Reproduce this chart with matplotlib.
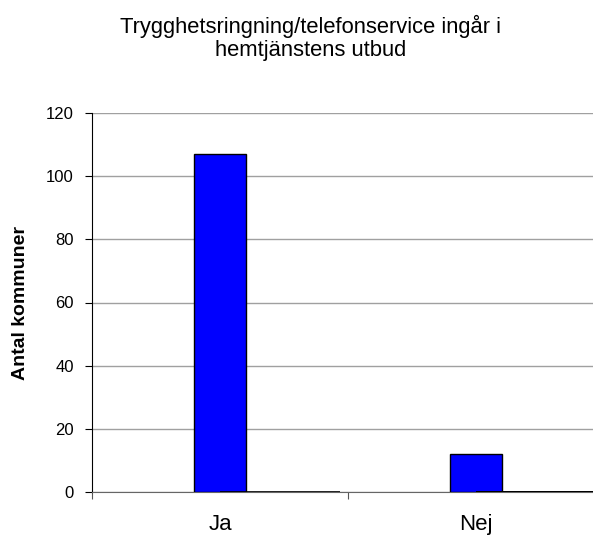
# Stapeldiagram i Excel-stil
import matplotlib.pyplot as plt
import numpy as np

plt.rcParams['font.family'] = ['Liberation Sans', 'DejaVu Sans']

categories = ['Ja', 'Nej']
antal = [107, 12]
# andra serien i originalet har bara nollor
andra_serien = [0, 0]

title = 'Trygghetsringning/telefonservice ingår i\nhemtjänstens utbud'

fig = plt.figure(figsize=(5.93, 5.35), dpi=100)
ax = fig.add_axes([92 / 593, 43 / 535, 512 / 593, 379 / 535])

x = np.arange(len(categories)) + 0.5
ax.bar(x, antal, width=0.2, color='#0000FF', edgecolor='black', linewidth=1, zorder=3)
ax.bar(x, andra_serien, width=0.47, align='edge', color='none',
       edgecolor='black', linewidth=1.2, zorder=3)

ax.set_xlim(0, 2)
ax.set_ylim(0, 120)
ax.set_yticks(range(0, 121, 20))
ax.yaxis.grid(True, color='#a0a0a0', linewidth=1, zorder=0)
ax.set_xticks([0, 1, 2])
ax.set_xticklabels([])
ax.set_xticks(x, minor=True)
ax.set_xticklabels(categories, minor=True, fontsize=16)
ax.tick_params(axis='x', which='minor', length=0, pad=16)
ax.tick_params(axis='x', which='major', length=5, color='#555555')
ax.tick_params(axis='y', length=5, labelsize=12, pad=8)

for side in ['top', 'right']:
    ax.spines[side].set_visible(False)
ax.spines['bottom'].set_color('#666666')
ax.spines['left'].set_color('black')

ax.set_ylabel('Antal kommuner', fontsize=14, fontweight='bold', labelpad=12)
fig.text(311 / 593, 1 - 38 / 535, title, ha='center', va='center', fontsize=15.8,
         linespacing=1.15)

fig.savefig('out.png', dpi=100)
